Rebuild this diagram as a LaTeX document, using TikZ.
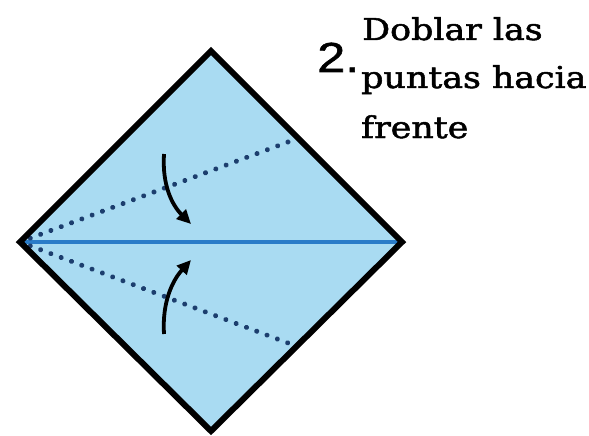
\documentclass[tikz,border=0pt]{standalone}
\usepackage{fontspec}
\setmainfont{DejaVu Serif}[FakeBold=1.6]
\newfontfamily\numfont{Liberation Sans}[FakeBold=1.2]
\usetikzlibrary{arrows.meta}
\definecolor{paper}{HTML}{A9DBF2}
\definecolor{crease}{HTML}{2A7CC8}
\definecolor{dotc}{HTML}{1C3E6E}
\tikzset{
  edge/.style={draw=black, line width=6pt, line join=miter},
  valley/.style={dotc, line width=5pt, line cap=round, dash pattern=on 0.01pt off 10.99pt},
  fold/.style={black, line width=3.8pt, -{Triangle[length=14pt,width=13pt]}},
  label/.style={font=\fontsize{30}{36}\selectfont, anchor=base west, inner sep=0pt, xscale=1.16, transform shape},
}
\begin{document}
\begin{tikzpicture}[x=1pt,y=-1pt]
\useasboundingbox (0,0) rectangle (589,436);
\coordinate (L) at (20,242);
\coordinate (R) at (402,242);
\coordinate (T) at (211,51);
\coordinate (B) at (211,431);
\coordinate (U) at (288,142);
\coordinate (D) at (288,343);
\fill[paper] (L) -- (T) -- (R) -- (B) -- cycle;
\draw[crease, line width=4pt] (L) -- (R);
\draw[valley] (L) -- (U);
\draw[valley] (L) -- (D);
\draw[edge] (L) -- (T) -- (R) -- (B) -- cycle;
\coordinate (a1) at (164,154);
\coordinate (a2) at (191,224);
\coordinate (b1) at (164,334);
\coordinate (b2) at (191,260);
\draw[fold] (a1) .. controls (162,185) and (172,205) .. (a2);
\draw[fold] (b1) .. controls (162,303) and (172,281) .. (b2);
\node[anchor=base west, inner sep=0pt, font=\numfont\fontsize{42}{46}\selectfont, xscale=1.2, transform shape] (num) at (317,72) {2.};
\node[label] (l1) at (362,40) {Doblar las};
\node[label] (l2) at (361,88) {puntas hacia};
\node[label] (l3) at (361,138) {frente};
\end{tikzpicture}
\end{document}
